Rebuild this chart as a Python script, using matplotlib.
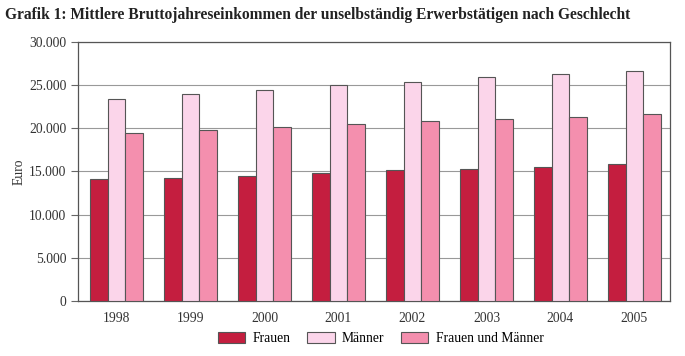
import matplotlib
matplotlib.use("Agg")
import matplotlib.pyplot as plt
import numpy as np

years = ["1998", "1999", "2000", "2001", "2002", "2003", "2004", "2005"]
frauen = [14070, 14250, 14450, 14830, 15180, 15330, 15530, 15870]
maenner = [23370, 23950, 24400, 24990, 25400, 25880, 26230, 26650]
gesamt = [19470, 19770, 20100, 20470, 20800, 21050, 21300, 21630]
series_names = ["Frauen", "Männer", "Frauen und Männer"]
colors = ["#C41E3F", "#FBD5EA", "#F48FAE"]
yticks = [0, 5000, 10000, 15000, 20000, 25000, 30000]
ytick_labels = ["0", "5.000", "10.000", "15.000", "20.000", "25.000", "30.000"]

plt.rcParams['font.family'] = ['Liberation Serif', 'DejaVu Serif']

fig = plt.figure(figsize=(6.85, 3.56), dpi=100)
ax = fig.add_axes([0.114, 0.1545, 0.864, 0.728])

x = np.arange(len(years))
w = 0.24
for i, (vals, c, name) in enumerate(zip([frauen, maenner, gesamt], colors, series_names)):
    ax.bar(x + (i - 1) * w + 0.02, vals, width=w, color=c, edgecolor="#555555", linewidth=0.8, label=name, zorder=3)

ax.set_xlim(-0.5, len(years) - 0.5)
ax.set_ylim(0, 30000)
ax.set_yticks(yticks)
ax.set_yticklabels(ytick_labels, fontsize=9.8, color="#333333")
ax.set_xticks(x + 0.02)
ax.set_xticklabels(years, fontsize=9.8, color="#333333")
ax.tick_params(axis="x", length=0, pad=8)
ax.tick_params(axis="y", length=5, color="#666666", direction="out")
ax.yaxis.grid(True, color="#999999", linewidth=0.8, zorder=0)
for s in ax.spines.values():
    s.set_color("#555555")
    s.set_linewidth(0.9)
ax.set_ylabel("Euro", fontsize=9.8, color="#333333", labelpad=2)

fig.text(0.007, 0.958, "Grafik 1: Mittlere Bruttojahreseinkommen der unselbständig Erwerbstätigen nach Geschlecht",
         fontsize=11.2, fontweight="bold", ha="left", va="center", color="#222222")

fig.legend(loc="center", bbox_to_anchor=(0.556, 0.05), ncol=3, frameon=False, fontsize=9.8,
           handlelength=2.0, handleheight=0.9, columnspacing=1.2, handletextpad=0.55)

fig.savefig("out.png", dpi=100)
